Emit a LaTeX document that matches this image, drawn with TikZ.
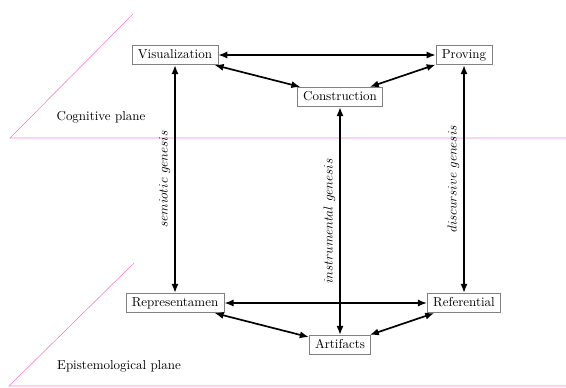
\documentclass[tikz,border=0pt]{standalone}
\usetikzlibrary{arrows.meta}
\definecolor{planepink}{RGB}{245,135,205}
\begin{document}
\begin{tikzpicture}[x=0.77pt,y=-0.77pt,
  box/.style={draw=black!50,line width=0.5pt,fill=white,inner xsep=4.5pt,inner ysep=3pt,text height=7pt,text depth=2pt},
  conn/.style={line width=1.3pt,{Latex[length=7pt,width=5.5pt]}-{Latex[length=7pt,width=5.5pt]}},
  plane/.style={draw=planepink,line width=0.5pt},
  lab/.style={midway,above,sloped,inner sep=3pt}]
\useasboundingbox (0,0) rectangle (566,387);
% planes
\coordinate (c1) at (133,14);
\coordinate (c2) at (10,138);
\coordinate (c3) at (566,138);
\draw[plane] (c1) -- (c2) -- (c3);
\coordinate (e1) at (134,263);
\coordinate (e2) at (9,386);
\coordinate (e3) at (566,386);
\draw[plane] (e1) -- (e2) -- (e3);
\node (cog) at (101,117) {Cognitive plane};
\node (epi) at (119,366) {Epistemological plane};
% nodes
\node[box] (vis) at (175,55) {Visualization};
\node[box] (pro) at (464,55) {Proving};
\node[box] (con) at (340,97) {Construction};
\node[box] (rep) at (175,303) {Representamen};
\node[box] (ref) at (464,303) {Referential};
\node[box] (art) at (340,345) {Artifacts};
% connectors
\draw[conn] (vis) -- (pro);
\draw[conn] (vis) -- (con);
\draw[conn] (con) -- (pro);
\draw[conn] (rep) -- (ref);
\draw[conn] (rep) -- (art);
\draw[conn] (art) -- (ref);
\draw[conn] (rep) -- node[lab] {$semiotic\ genesis$} (vis);
\draw[conn] (art) -- node[lab] {$instrumental\ genesis$} (con);
\draw[conn] (ref) -- node[lab] {$discursive\ genesis$} (pro);
\end{tikzpicture}
\end{document}
